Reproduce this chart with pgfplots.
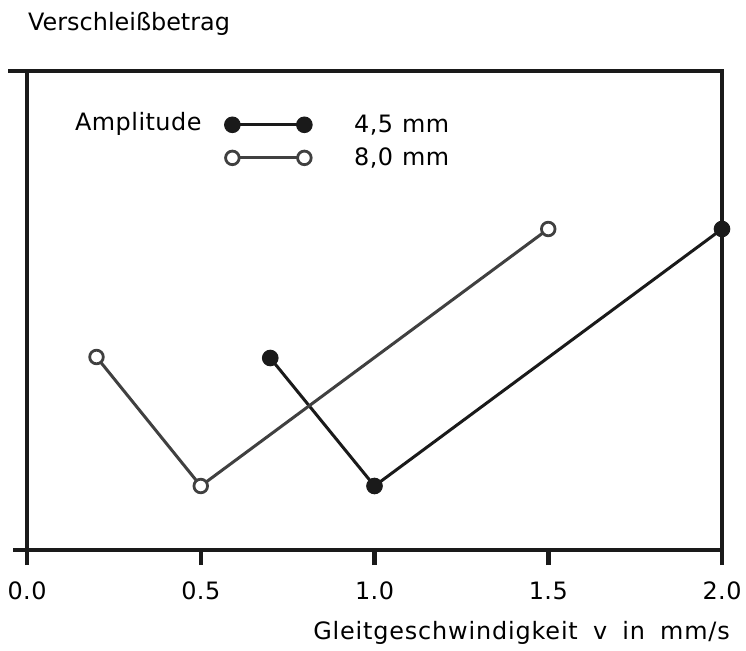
\documentclass[border=0pt]{standalone}
\usepackage{fontspec}
\setmainfont{DejaVu Sans}[LetterSpace=2, WordSpace=1.8]
\newfontfamily\legendfont{DejaVu Sans}[LetterSpace=2, WordSpace=1.1]
\newfontfamily\titlefont{DejaVu Sans}[LetterSpace=0]
\newfontfamily\xlabelfont{DejaVu Sans}[LetterSpace=3.5, WordSpace=1.8]
\usepackage{pgfplots}
\pgfplotsset{compat=1.18}
\definecolor{ink}{HTML}{1A1A1A}
\definecolor{grayink}{HTML}{404040}
\begin{document}
\begin{tikzpicture}
\useasboundingbox (-27bp,-101bp) rectangle (719bp,550bp);
\begin{axis}[
  scale only axis, width=695bp, height=479bp,
  xmin=0, xmax=2, ymin=0, ymax=479,
  xtick={0,0.5,1,1.5,2}, xticklabels={0.0,0.5,1.0,1.5,2.0},
  ytick=\empty,
  xtick pos=bottom,
  tick align=outside,
  major tick length=15bp,
  every tick/.style={ink, line width=4.5bp},
  axis line style={ink, line width=4.5bp},
  font=\fontsize{24}{29}\selectfont,
  /pgf/number format/assume math mode=true,
  xticklabel style={anchor=base, inner sep=0pt, yshift=-34bp},
  clip=false,
  legend image code/.code={\draw[#1, mark repeat=1] plot coordinates {(0bp,0bp) (72bp,0bp)};},
  legend cell align=left,
  legend style={at={(rel axis cs:0.284,0.912)}, anchor=north west, draw=none, fill=none,
    inner sep=0pt, row sep=10bp, font=\legendfont\fontsize{24}{29}\selectfont,
    /tikz/every odd column/.append style={column sep=40bp}},
]
\addplot[ink, line width=3bp, mark=*, mark size=7.8bp, mark options={fill=ink, draw=ink, line width=1bp}]
  coordinates {(0.7,192) (1.0,64) (2.0,321)};
\addlegendentry{4,5 mm}
\addplot[grayink, line width=3bp, mark=*, mark size=6.8bp, mark options={fill=white, draw=grayink, line width=2.8bp}]
  coordinates {(0.2,193) (0.5,64) (1.5,321)};
\addlegendentry{8,0 mm}
\draw[ink, line width=4.5bp] (rel axis cs:0,1) -- ([xshift=-19bp]rel axis cs:0,1);
\draw[ink, line width=4.5bp] (rel axis cs:0,0) -- ([xshift=-14bp]rel axis cs:0,0);
\node[anchor=base west, inner sep=0pt, xshift=1bp, font=\titlefont\fontsize{24}{29}\selectfont] at (rel axis cs:0,1.0835) {Verschleißbetrag};
\node[anchor=base west, inner sep=0pt] at (rel axis cs:0.069,0.875) {Amplitude};
\node[anchor=base east, inner sep=0pt, font=\xlabelfont\fontsize{24}{29}\selectfont] at (rel axis cs:1.0115,-0.1858) {Gleitgeschwindigkeit v in mm/s};
\end{axis}
\end{tikzpicture}
\end{document}
